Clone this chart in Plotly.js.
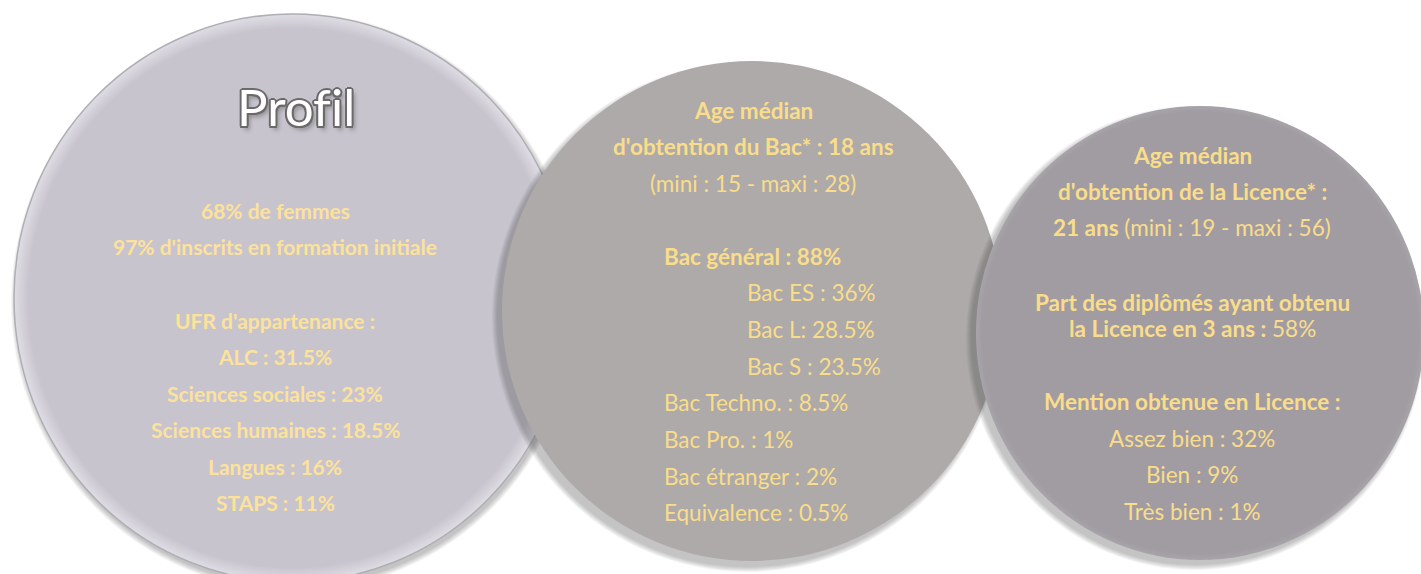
<!DOCTYPE html>
<html>
<head>
<meta charset="utf-8">
<script src="https://cdn.plot.ly/plotly-3.0.1.min.js"></script>
<style>html,body{margin:0;padding:0;background:#fff;}#chart{width:1421px;height:574px;}</style>
</head>
<body>
<div id="chart"></div>
<script>
// ---- Data (text content) ----
const profilTitle = "Profil";
const profilLines = [
  "<b>68% de femmes</b>",
  "<b>97% d'inscrits en formation initiale</b>",
  "",
  "<b>UFR d'appartenance :</b>",
  "<b>ALC : 31.5%</b>",
  "<b>Sciences sociales : 23%</b>",
  "<b>Sciences humaines : 18.5%</b>",
  "<b>Langues : 16%</b>",
  "<b>STAPS : 11%</b>"
];
const bacHeader = [
  "<b>Age médian</b>",
  "<b>d'obtention du Bac* : 18 ans</b>",
  "(mini : 15 - maxi : 28)"
];
const bacTypes = ["<b>Bac général : 88%</b>", "Bac ES : 36%", "Bac L: 28.5%", "Bac S : 23.5%",
                  "Bac Techno. : 8.5%", "Bac Pro. : 1%", "Bac étranger : 2%", "Equivalence : 0.5%"];
const bacIndent = [0, 1, 1, 1, 0, 0, 0, 0];
const licenceLines = [
  "<b>Age médian</b>",
  "<b>d'obtention de la Licence* :</b>",
  "<b>21 ans</b> (mini : 19 - maxi : 56)",
  "<b>Part des diplômés ayant obtenu</b>",
  "<b>la Licence en 3 ans :</b> 58%",
  "<b>Mention obtenue en Licence :</b>",
  "Assez bien : 32%",
  "Bien : 9%",
  "Très bien : 1%"
];

// ---- Layout constants ----
const FONT = "Lato, 'Open Sans', sans-serif";
const TXT = "#f9dd8b";
const FS1 = 21;
const FS = 22.5;
const discs = [
  {x0: 14, x1: 570, y0: 14, y1: 582, fill: [200, 196, 206], rim: [222, 220, 227], edge: "#b0aeb5", rimW: 14, shadow: [2, 4]},
  {x0: 502, x1: 1002, y0: 61, y1: 561, fill: [174, 170, 169], rim: [174, 170, 169], edge: null, rimW: 0, shadow: [-5, 6]},
  {x0: 976, x1: 1424, y0: 106, y1: 560, fill: [161, 156, 162], rim: [168, 164, 170], edge: null, rimW: 6, shadow: [-5, 5]}
];
const profilY = [210, 246, 0, 320, 356, 393, 429, 466, 502];
const bacHeaderY = [110, 146, 183];
const bacTypeY0 = 256, bacStep = 36.7;
const licenceY = [155, 191, 227, 302, 328, 401, 438, 474, 511];

const shapes = [];
function ell(x0, x1, y0, y1, color, opacity, line) {
  shapes.push({type: "circle", xref: "x", yref: "y", x0: x0, x1: x1, y0: y0, y1: y1,
    fillcolor: color, opacity: opacity, line: line || {width: 0}, layer: "below"});
}
function rgb(a) { return "rgb(" + a.map(v => Math.round(v)).join(",") + ")"; }
discs.forEach(d => {
  // soft shadow
  for (let k = 5; k >= 0; k--) {
    ell(d.x0 + d.shadow[0] - k, d.x1 + d.shadow[0] + k, d.y0 + d.shadow[1] - k, d.y1 + d.shadow[1] + k, "#404040", 0.06);
  }
  // body with rim gradient (opaque)
  const steps = d.rimW > 0 ? 10 : 0;
  for (let i = 0; i <= steps; i++) {
    const t = steps ? i / steps : 1;
    const inset = steps ? i * d.rimW / steps : 0;
    const col = d.rim.map((v, j) => v + (d.fill[j] - v) * t);
    ell(d.x0 + inset, d.x1 - inset, d.y0 + inset, d.y1 - inset, rgb(col), 1,
        i === 0 && d.edge ? {width: 1.5, color: d.edge} : {width: 0});
  }
});

const ann = [];
function addText(text, x, y, anchor, font) {
  if (!text) return;
  ann.push({text: text, x: x, y: y, xref: "x", yref: "y", xanchor: anchor, yanchor: "middle",
    showarrow: false, font: font || {family: FONT, size: FS, color: TXT}});
}
// Circle 1 (ZWNJ after "f" keeps "fi" from forming a ligature, as in the original)
addText(profilTitle.replace("fi", "f\u200Ci"), 296, 106, "center", {family: FONT, size: 51, color: "#ffffff",
  shadow: "1.5px 1.5px 0 #6a6a6a, -1.5px -1.5px 0 #6a6a6a, 1.5px -1.5px 0 #6a6a6a, -1.5px 1.5px 0 #6a6a6a, 0 2px 0 #6a6a6a, 2px 0 0 #6a6a6a, -2px 0 0 #6a6a6a, 0 -2px 0 #6a6a6a, 3px 4px 4px #8a8a8a"});
profilLines.forEach((t, i) => addText(t, 275, profilY[i], "center", {family: FONT, size: FS1, color: "#fce29a"}));
// Circle 2
bacHeader.forEach((t, i) => addText(t, 753, bacHeaderY[i], "center"));
bacTypes.forEach((t, i) => addText(t, bacIndent[i] ? 745 : 662, bacTypeY0 + i * bacStep, "left"));
// Circle 3
licenceLines.forEach((t, i) => addText(t, 1192, licenceY[i], "center"));

const layout = {
  width: 1421, height: 574,
  margin: {l: 0, r: 0, t: 0, b: 0},
  paper_bgcolor: "#ffffff", plot_bgcolor: "#ffffff",
  xaxis: {range: [0, 1421], visible: false, fixedrange: true},
  yaxis: {range: [574, 0], visible: false, fixedrange: true},
  showlegend: false,
  shapes: shapes,
  annotations: ann
};
Plotly.newPlot("chart", [{x: [], y: [], type: "scatter"}], layout, {displayModeBar: false, staticPlot: true});
</script>
</body>
</html>
